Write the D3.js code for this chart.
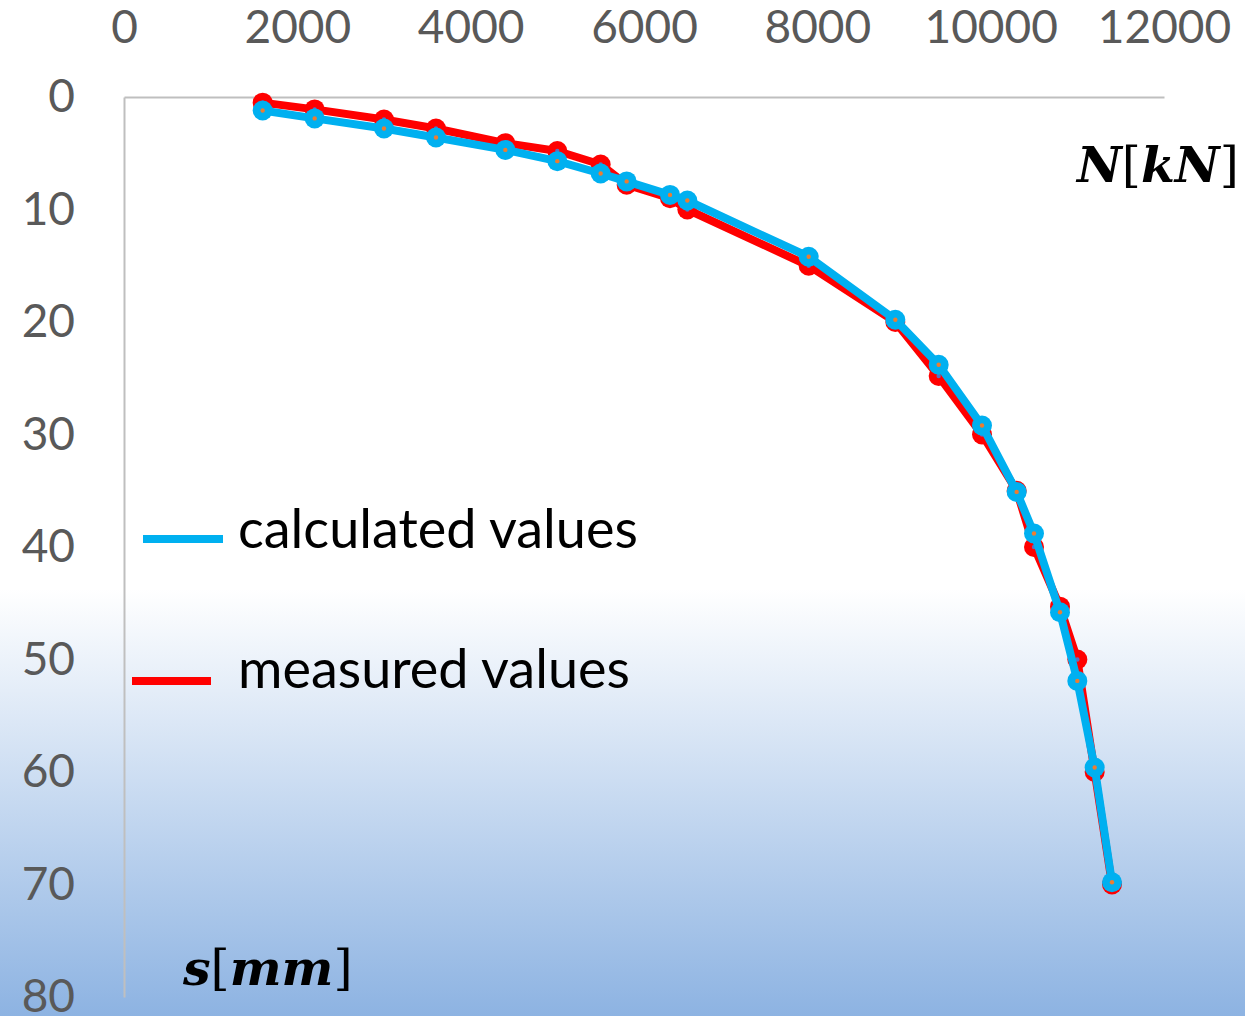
<!DOCTYPE html>
<html>
<head>
<meta charset="utf-8">
<script src="https://cdn.jsdelivr.net/npm/d3@7"></script>
<style>
  body { margin: 0; }
  svg { display: block; }
  .tick text { font-family: Lato, "Open Sans", sans-serif; fill: #595959; }
</style>
</head>
<body>
<svg id="pile"></svg>
<script>
// load steps N [kN] (shared by both series)
const loads = [1600, 2200, 3000, 3600, 4400, 5000, 5500, 5800, 6300, 6500,
  7900, 8900, 9400, 9900, 10300, 10500, 10800, 11000, 11200, 11400];
// settlement s [mm]
const measured = [0.5, 1.1, 2.0, 2.8, 4.1, 4.8, 6.0, 7.8, 9.0, 10.0,
  15.0, 20.0, 24.8, 30.0, 35.0, 40.0, 45.3, 50.0, 60.0, 70.0];
const calculated = [1.2, 1.9, 2.8, 3.6, 4.7, 5.7, 6.8, 7.5, 8.7, 9.2,
  14.2, 19.8, 23.8, 29.2, 35.1, 38.8, 45.8, 51.9, 59.6, 69.8];
const xTicks = [0, 2000, 4000, 6000, 8000, 10000, 12000];
const yTicks = [0, 10, 20, 30, 40, 50, 60, 70, 80];

const W = 1245, H = 1016;
const svg = d3.select('svg#pile')
  .attr('width', W)
  .attr('height', H);

// background gradient, white on top fading to light blue
const grad = svg.append('defs').append('linearGradient')
  .attr('id', 'bg')
  .attr('x1', 0).attr('y1', 0).attr('x2', 0).attr('y2', 1);
grad.append('stop').attr('offset', 0).attr('stop-color', '#ffffff');
grad.append('stop').attr('offset', 0.58).attr('stop-color', '#ffffff');
grad.append('stop').attr('offset', 1).attr('stop-color', '#8db3e2');

svg.append('rect')
  .attr('width', W).attr('height', H)
  .attr('fill', 'url(#bg)');

const x = d3.scaleLinear().domain([0, 12000]).range([124, 1164]);
const y = d3.scaleLinear().domain([0, 80]).range([97, 997]);

const xAxis = svg.append('g')
  .attr('transform', `translate(0, ${y(0)})`)
  .call(d3.axisTop(x).tickValues(xTicks).tickFormat(d3.format('d'))
    .tickSize(0).tickSizeOuter(0).tickPadding(54));
xAxis.selectAll('text').style('font-size', '46px');

const yAxis = svg.append('g')
  .attr('transform', `translate(${x(0)}, 0)`)
  .call(d3.axisLeft(y).tickValues(yTicks).tickFormat(d3.format('d'))
    .tickSize(0).tickSizeOuter(0).tickPadding(49));
yAxis.selectAll('text').style('font-size', '46px');

svg.selectAll('.domain')
  .attr('stroke', '#bfbfbf')
  .attr('stroke-width', 2);

const line = d3.line()
  .x((d) => x(d[0]))
  .y((d) => y(d[1]));

const series = [
  { name: 'measured', values: measured, color: '#ff0000', dot: '#5b6fc0' },
  { name: 'calculated', values: calculated, color: '#00b0f0', dot: '#ed7d31' }
];

series.forEach((s) => {
  const pts = loads.map((n, i) => [n, s.values[i]]);
  const g = svg.append('g');

  g.append('path')
    .datum(pts)
    .attr('fill', 'none')
    .attr('stroke', s.color)
    .attr('stroke-width', 8)
    .attr('stroke-linejoin', 'round')
    .attr('d', line);

  g.selectAll('circle.mk')
    .data(pts)
    .enter()
    .append('circle')
    .attr('class', 'mk')
    .attr('cx', (d) => x(d[0]))
    .attr('cy', (d) => y(d[1]))
    .attr('r', 10)
    .attr('fill', s.color);

  g.selectAll('circle.ctr')
    .data(pts)
    .enter()
    .append('circle')
    .attr('class', 'ctr')
    .attr('cx', (d) => x(d[0]))
    .attr('cy', (d) => y(d[1]))
    .attr('r', 2.2)
    .attr('fill', s.dot);
});

// legend
const legend = [
  { label: 'calculated values', color: '#00b0f0', x1: 143, x2: 223, y: 539, tx: 238, ty: 548 },
  { label: 'measured values', color: '#ff0000', x1: 132, x2: 211, y: 681, tx: 238, ty: 688 }
];

legend.forEach((l) => {
  svg.append('line')
    .attr('x1', l.x1).attr('x2', l.x2)
    .attr('y1', l.y).attr('y2', l.y)
    .attr('stroke', l.color)
    .attr('stroke-width', 8);
  svg.append('text')
    .attr('x', l.tx).attr('y', l.ty)
    .style('font-family', 'Lato, "Open Sans", sans-serif')
    .style('font-size', '54px')
    .attr('fill', '#000')
    .text(l.label);
});

// axis titles, math style
function mathLabel(px, py, parts) {
  const t = svg.append('text')
    .attr('x', px).attr('y', py)
    .style('font-family', '"DejaVu Serif", "Liberation Serif", serif')
    .style('font-size', '49px')
    .attr('fill', '#000');
  parts.forEach((p) => {
    t.append('tspan')
      .style('font-style', p.it ? 'italic' : 'normal')
      .style('font-weight', p.it ? 'bold' : 'normal')
      .text(p.s);
  });
}

mathLabel(1077, 182, [{ s: 'N', it: true }, { s: '[' }, { s: 'kN', it: true }, { s: ']' }]);
mathLabel(183, 985, [{ s: 's', it: true }, { s: '[' }, { s: 'mm', it: true }, { s: ']' }]);
</script>
</body>
</html>
